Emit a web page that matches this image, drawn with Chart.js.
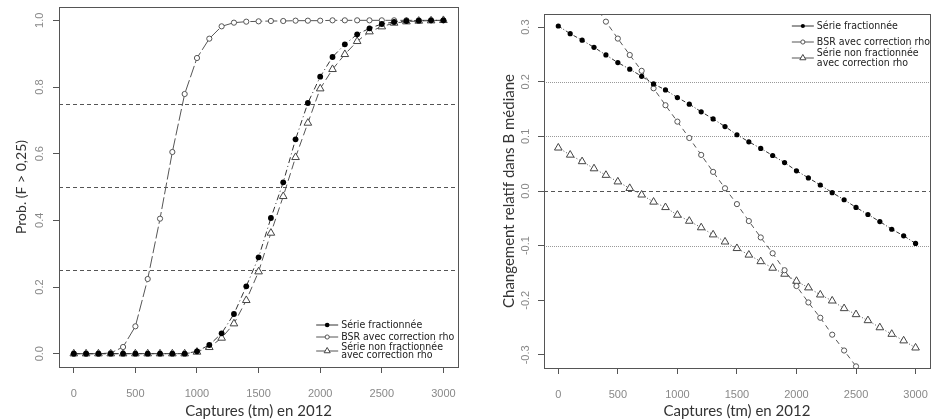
<!DOCTYPE html>
<html>
<head>
<meta charset="utf-8">
<script src="https://cdn.jsdelivr.net/npm/chart.js@4"></script>
<style>
  body { margin: 0; background: #fff; }
  canvas { position: absolute; top: 0; }
  #left { left: 0; }
  #right { left: 470px; }
</style>
</head>
<body>
<canvas id="left" width="470" height="420"></canvas>
<canvas id="right" width="472" height="420"></canvas>
<script>
// captures en 2012 (tm)
const captures = [0, 100, 200, 300, 400, 500, 600, 700, 800, 900, 1000, 1100, 1200, 1300, 1400, 1500,
  1600, 1700, 1800, 1900, 2000, 2100, 2200, 2300, 2400, 2500, 2600, 2700, 2800, 2900, 3000]

// left panel: Prob.(F > 0,25)
const probFract = [0, 0, 0, 0, 0, 0, 0, 0, 0, 0, 0.007, 0.026, 0.061, 0.119, 0.202, 0.289,
  0.407, 0.514, 0.643, 0.752, 0.831, 0.890, 0.928, 0.958, 0.976, 0.989, 0.995, 0.998, 0.999, 1.0, 1.0]
const probBsr = [0, 0, 0, 0.002, 0.020, 0.082, 0.224, 0.405, 0.605, 0.779, 0.887, 0.945, 0.982, 0.993, 0.996, 0.997,
  0.998, 0.998, 0.999, 0.999, 0.999, 1.0, 1.0, 1.0, 1.0, 1.0, 1.0, 1.0, 1.0, 1.0, 1.0]
const probNonFract = [0, 0, 0, 0, 0, 0, 0, 0, 0, 0, 0.005, 0.019, 0.047, 0.090, 0.160, 0.246,
  0.362, 0.472, 0.589, 0.692, 0.795, 0.853, 0.898, 0.937, 0.966, 0.981, 0.992, 0.996, 0.998, 0.999, 1.0]

// right panel: changement relatif dans B mediane
const chgFract = [0.302, 0.288, 0.276, 0.263, 0.249, 0.235, 0.223, 0.210, 0.196, 0.185, 0.171, 0.159, 0.145, 0.132, 0.118, 0.103,
  0.090, 0.078, 0.065, 0.052, 0.037, 0.024, 0.011, -0.003, -0.016, -0.030, -0.043, -0.056, -0.070, -0.082, -0.096]
const chgBsr = [null, null, null, 0.342, 0.310, 0.279, 0.249, 0.220, 0.188, 0.157, 0.127, 0.097, 0.066, 0.035, 0.005, -0.024,
  -0.055, -0.085, -0.114, -0.145, -0.174, -0.204, -0.232, -0.263, -0.292, -0.321, null, null, null, null, null]
const chgNonFract = [0.079, 0.066, 0.054, 0.041, 0.029, 0.017, 0.005, -0.007, -0.020, -0.030, -0.044, -0.055, -0.067, -0.080, -0.093, -0.105,
  -0.117, -0.129, -0.141, -0.152, -0.165, -0.177, -0.190, -0.201, -0.215, -0.226, -0.237, -0.250, -0.262, -0.274, -0.287]

const xTicks = [0, 500, 1000, 1500, 2000, 2500, 3000]
const probTicks = [0, 0.2, 0.4, 0.6, 0.8, 1.0]
const chgTicks = [-0.3, -0.2, -0.1, 0, 0.1, 0.2, 0.3]

const probRefLines = [0.25, 0.5, 0.75]
const chgDottedLines = [0.2, 0.1, -0.1]
const chgDashedLines = [0]

const legendLabels = ['Série fractionnée', 'BSR avec correction rho', ['Série non fractionnée', 'avec correction rho']]
const xTitle = 'Captures (tm) en 2012'

const tickFont = '11px "Liberation Sans", Arial, sans-serif'
const titleFamily = 'Lato, "Open Sans", sans-serif'

function points(values) {
  return captures.map((c, i) => ({ x: c, y: values[i] }))
}

function makeDatasets(fract, bsr, nonFract, dashes, dotSize) {
  return [
    {
      label: legendLabels[0], data: points(fract),
      borderColor: '#333', borderWidth: 1, borderDash: dashes[0],
      pointStyle: 'circle', pointRadius: dotSize, pointBackgroundColor: '#000', pointBorderColor: '#000', pointBorderWidth: 0
    },
    {
      label: legendLabels[1], data: points(bsr),
      borderColor: '#555', borderWidth: 1, borderDash: dashes[1],
      pointStyle: 'circle', pointRadius: 2.6, pointBackgroundColor: '#fff', pointBorderColor: '#555', pointBorderWidth: 1
    },
    {
      label: 'Série non fractionnée avec correction rho', data: points(nonFract),
      borderColor: '#555', borderWidth: 1, borderDash: dashes[2],
      pointStyle: 'triangle', pointRadius: 4.4, pointBackgroundColor: '#fff', pointBorderColor: '#444', pointBorderWidth: 1
    }
  ]
}

// R-like frame, rotated y labels, reference lines and legend
const rStyle = {
  id: 'rStyle',
  beforeDatasetsDraw(chart, args, opts) {
    const { ctx, chartArea: a, scales } = chart
    ctx.save()
    ctx.lineWidth = 1
    opts.refLines.forEach(r => {
      r.values.forEach(v => {
        const y = Math.round(scales.y.getPixelForValue(v)) + 0.5
        ctx.strokeStyle = r.color
        ctx.setLineDash(r.dash)
        ctx.beginPath()
        ctx.moveTo(a.left, y)
        ctx.lineTo(a.right, y)
        ctx.stroke()
      })
    })
    ctx.restore()
  },
  afterDraw(chart, args, opts) {
    const { ctx, chartArea: a, scales } = chart
    ctx.save()
    ctx.strokeStyle = '#555'
    ctx.lineWidth = 1
    ctx.strokeRect(Math.round(a.left) + 0.5, Math.round(a.top) + 0.5, Math.round(a.right - a.left), Math.round(a.bottom - a.top))

    ctx.fillStyle = '#888'
    ctx.font = tickFont
    ctx.textAlign = 'center'
    ctx.textBaseline = 'middle'
    opts.yTicks.forEach(v => {
      ctx.save()
      ctx.translate(a.left - opts.labelOffset, scales.y.getPixelForValue(v))
      ctx.rotate(-Math.PI / 2)
      ctx.fillText(v.toFixed(1), 0, 0)
      ctx.restore()
    })

    drawLegend(chart, a.right - opts.legend.dx, a.top + opts.legend.dy, opts.legend)
    ctx.restore()
  }
}

function drawLegend(chart, x, y0, lg) {
  const ctx = chart.ctx
  ctx.font = lg.font
  ctx.textAlign = 'left'
  ctx.textBaseline = 'middle'
  chart.data.datasets.forEach((ds, i) => {
    const y = y0 + lg.rows[i]
    ctx.strokeStyle = ds.borderColor
    ctx.setLineDash([])
    ctx.lineWidth = 1
    ctx.beginPath()
    ctx.moveTo(x, y)
    ctx.lineTo(x + 22, y)
    ctx.stroke()
    ctx.fillStyle = ds.pointBackgroundColor
    ctx.strokeStyle = ds.pointBorderColor
    ctx.lineWidth = ds.pointBorderWidth
    Chart.helpers.drawPoint(ctx, { pointStyle: ds.pointStyle, radius: ds.pointRadius * 0.8, borderWidth: ds.pointBorderWidth, rotation: 0 }, x + 11, y)
    ctx.fillStyle = '#222'
    const lines = [].concat(legendLabels[i])
    lines.forEach((t, k) => ctx.fillText(t, x + 25, y + (k - (lines.length - 1) / 2) * lg.lineGap))
  })
}

function makeChart(id, datasets, yMin, yMax, yTitle, axisBox, extra) {
  return new Chart(document.getElementById(id), {
    type: 'line',
    data: { datasets },
    options: {
      responsive: false,
      animation: false,
      layout: { padding: { top: axisBox.top, right: axisBox.right, bottom: 0, left: 0 } },
      plugins: { legend: { display: false }, tooltip: { enabled: false }, rStyle: extra },
      scales: {
        x: {
          type: 'linear', min: -120, max: 3120,
          afterBuildTicks: s => { s.ticks = xTicks.map(v => ({ value: v })) },
          afterFit: s => { s.height = axisBox.bottom },
          grid: { drawOnChartArea: false, drawTicks: true, tickLength: 6, color: '#555' },
          border: { display: false },
          ticks: {
            color: '#888', font: { family: '"Liberation Sans", Arial, sans-serif', size: 11 }, padding: 14, maxRotation: 0,
            callback: v => String(v)
          },
          title: { display: true, text: xTitle, color: '#333', font: { family: titleFamily, size: 15 }, padding: { top: 0, bottom: 0 } }
        },
        y: {
          type: 'linear', min: yMin, max: yMax,
          afterBuildTicks: s => { s.ticks = extra.yTicks.map(v => ({ value: v })) },
          afterFit: s => { s.width = axisBox.left },
          grid: { drawOnChartArea: false, drawTicks: true, tickLength: 6, color: '#555' },
          border: { display: false },
          ticks: { display: false },
          title: { display: true, text: yTitle, color: '#333', font: { family: titleFamily, size: axisBox.titleSize }, padding: { top: axisBox.titlePad, bottom: 0 } }
        }
      }
    },
    plugins: [rStyle]
  })
}

makeChart('left',
  makeDatasets(probFract, probBsr, probNonFract, [[6, 3, 1, 3], [12, 3], [8, 4]], 2.9),
  -0.04, 1.04, 'Prob. (F > 0,25)',
  { top: 7, right: 10, bottom: 53, left: 59, titlePad: 13, titleSize: 14 },
  {
    yTicks: probTicks, labelOffset: 19,
    refLines: [{ values: probRefLines, color: '#555', dash: [4, 3] }],
    legend: { dx: 142, dy: 0, rows: [318, 330, 344], font: '10.5px "Liberation Sans Narrow", "DejaVu Sans Condensed", sans-serif', lineGap: 8 }
  })

makeChart('right',
  makeDatasets(chgFract, chgBsr, chgNonFract, [[4, 2, 1, 2], [5, 4], [1, 2]], 2.6),
  -0.324, 0.324, 'Changement relatif dans B médiane',
  { top: 14, right: 4, bottom: 52, left: 74, titlePad: 30, titleSize: 15 },
  {
    yTicks: chgTicks, labelOffset: 18,
    refLines: [
      { values: chgDottedLines, color: '#999', dash: [1, 1] },
      { values: chgDashedLines, color: '#555', dash: [4, 3] }
    ],
    legend: { dx: 138, dy: 12, rows: [0, 16, 32], font: '10.5px "Liberation Sans Narrow", "DejaVu Sans Condensed", sans-serif', lineGap: 10 }
  })
</script>
</body>
</html>
